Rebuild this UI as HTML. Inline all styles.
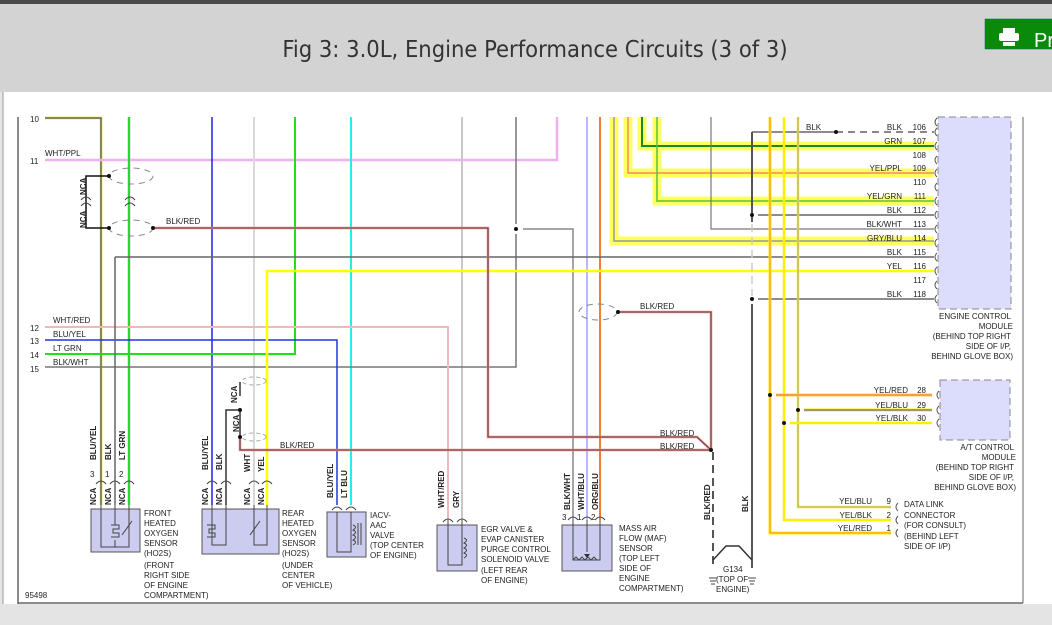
<!DOCTYPE html>
<html><head><meta charset="utf-8"><style>
html,body{margin:0;padding:0;width:1052px;height:625px;overflow:hidden;background:#fff;font-family:"Liberation Sans",sans-serif}
</style></head><body>
<svg width="1052" height="625" viewBox="0 0 1052 625" xmlns="http://www.w3.org/2000/svg" font-family="Liberation Sans, sans-serif">
<rect x="0" y="0" width="1052" height="625" fill="#fff"/>
<rect x="0" y="0" width="1052" height="4" fill="#4a4a4a"/>
<rect x="0" y="4" width="1052" height="88" fill="#d3d3d3"/>
<rect x="0" y="92" width="3" height="533" fill="#e6e6e6"/>
<line x1="3" y1="92" x2="3" y2="625" stroke="#999"/>
<text x="535" y="57" font-size="23.5" fill="#333" text-anchor="middle" font-family="DejaVu Sans Condensed, Liberation Sans Narrow, sans-serif">Fig 3: 3.0L, Engine Performance Circuits (3 of 3)</text>
<rect x="985" y="19" width="70" height="30" fill="#0a8a0a" stroke="#066" stroke-width="0.5"/>
<rect x="1003" y="28" width="12" height="6" fill="#fff"/>
<rect x="999" y="33" width="20" height="8" rx="2" fill="#fff"/>
<rect x="1003" y="42" width="12" height="4" fill="#fff"/>
<text x="1034" y="47" font-size="20" fill="#fff">Pr</text>
<rect x="0" y="604" width="1052" height="21" fill="#e4e4e4"/>
<line x1="18" y1="117" x2="18" y2="604" stroke="#666" stroke-width="1.5"/>
<line x1="18" y1="603" x2="1023" y2="603" stroke="#666" stroke-width="1.5"/>
<line x1="1023" y1="117" x2="1023" y2="603" stroke="#666" stroke-width="1"/>

<g fill="none" stroke-linejoin="miter">
<path d="M614 117V241H934" stroke="#ffff60" stroke-width="9"/>
<path d="M628 117V173H934" stroke="#ffff60" stroke-width="9"/>
<path d="M642 117V146H934" stroke="#ffff60" stroke-width="9"/>
<path d="M657 117V201H934" stroke="#ffff60" stroke-width="9"/>
<path d="M614 117V241H934" stroke="#999" stroke-width="1.5"/>
<path d="M628 117V173H934" stroke="#f07060" stroke-width="1.2"/>
<path d="M642 117V146H934" stroke="#1a8a1a" stroke-width="2"/>
<path d="M657 117V201H934" stroke="#5cc040" stroke-width="1.5"/>

<path d="M45 118H101V505" stroke="#e8d800" stroke-width="2.5"/>
<path d="M45 118H101V505" stroke="#2233cc" stroke-width="1"/>
<path d="M45 160H557V117" stroke="#f0b0f0" stroke-width="2.5"/>
<path d="M129 117V505" stroke="#ccc" stroke-width="3"/>
<path d="M129 117V505" stroke="#22dd22" stroke-width="2"/>
<path d="M212 117V505" stroke="#2222ee" stroke-width="1.5"/>
<path d="M254 117V505" stroke="#d8d8d8" stroke-width="2"/>
<path d="M295 117V354H45" stroke="#22dd22" stroke-width="2"/>
<path d="M351 117V505" stroke="#22eeee" stroke-width="2"/>
<path d="M462 117V520" stroke="#c8c8c8" stroke-width="2"/>
<path d="M516 117V224M516 234V367H45" stroke="#777" stroke-width="1.5"/>
<path d="M523 229H573V520" stroke="#888" stroke-width="1.5"/>
<path d="M587 117V520" stroke="#a0a0f8" stroke-width="1.5"/>
<path d="M600 117V520" stroke="#f08030" stroke-width="2"/>
<path d="M45 327H448V520" stroke="#f0b8b8" stroke-width="2"/>
<path d="M45 340H337V505" stroke="#2233dd" stroke-width="1.5"/>
<path d="M115 257V505" stroke="#666" stroke-width="1.5"/>
<path d="M115 257H934" stroke="#666" stroke-width="1.5"/>
<path d="M267 505V271H934" stroke="#ffff00" stroke-width="2.5"/>
<path d="M711 117V229H934" stroke="#777" stroke-width="1.2"/>

<path d="M153 228H488V437H697L711 450" stroke="#ee8888" stroke-width="2.5"/>
<path d="M153 228H488V437H697L711 450" stroke="#333" stroke-width="0.8"/>
<path d="M240 437V450H711" stroke="#ee8888" stroke-width="2.5"/>
<path d="M240 437V450H711" stroke="#333" stroke-width="0.8"/>
<path d="M618 312H711V450" stroke="#ee8888" stroke-width="2.5"/>
<path d="M618 312H711V450" stroke="#333" stroke-width="0.8"/>
<path d="M713 452V568" stroke="#555" stroke-width="2" stroke-dasharray="8,5"/>

<path d="M752 132H836" stroke="#666" stroke-width="1.5"/>
<path d="M836 132H934" stroke="#777" stroke-width="1.8" stroke-dasharray="7,5"/>
<path d="M752 132V222" stroke="#555" stroke-width="2"/>
<path d="M752 224V296" stroke="#ccc" stroke-width="1.5" stroke-dasharray="8,5"/>
<path d="M752 304V568" stroke="#555" stroke-width="2"/>
<path d="M758 215H934M758 299H934" stroke="#666" stroke-width="1.5"/>
<path d="M713 560L726 546H739L752 560" stroke="#333" stroke-width="1.5"/>

<path d="M770 117V533H891" stroke="#ffee00" stroke-width="3"/>
<path d="M770 117V533H891" stroke="#f07040" stroke-width="0.8"/>
<path d="M784 117V520H891" stroke="#ffee00" stroke-width="2.5"/>
<path d="M798 117V507H891" stroke="#ffee00" stroke-width="2.5"/>
<path d="M798 117V507H891" stroke="#8888ff" stroke-width="0.8"/>
<path d="M776 395H932" stroke="#ffcc44" stroke-width="3"/>
<path d="M776 395H932" stroke="#f07040" stroke-width="1"/>
<path d="M804 410H932" stroke="#ffee00" stroke-width="3"/>
<path d="M804 410H932" stroke="#3344dd" stroke-width="1"/>
<path d="M790 423H932" stroke="#ffee00" stroke-width="2.5"/>

<path d="M109 176H86V228H109" stroke="#111" stroke-width="1.5"/>
<ellipse cx="131" cy="176" rx="22" ry="8" stroke="#888" stroke-dasharray="6,5"/>
<ellipse cx="131" cy="228" rx="22" ry="8" stroke="#888" stroke-dasharray="6,5"/>
<ellipse cx="598" cy="312" rx="19" ry="8" stroke="#888" stroke-dasharray="6,5"/>
<ellipse cx="254" cy="381" rx="12" ry="4" stroke="#aaa" stroke-dasharray="4,3"/>
<ellipse cx="254" cy="437" rx="12" ry="4" stroke="#aaa" stroke-dasharray="4,3"/>
<path d="M240 382V396M240 412V437M240 410H226V505" stroke="#333" stroke-width="1.5"/>
</g>
<g fill="#111">
<circle cx="109" cy="176" r="2"/><circle cx="109" cy="228" r="2"/><circle cx="153" cy="228" r="2"/>
<circle cx="516" cy="229" r="2"/><circle cx="618" cy="312" r="2"/><circle cx="711" cy="450" r="2"/>
<circle cx="836" cy="132" r="2"/><circle cx="752" cy="215" r="2"/><circle cx="752" cy="299" r="2"/>
<circle cx="770" cy="395" r="2"/><circle cx="798" cy="410" r="2"/><circle cx="784" cy="423" r="2"/>
<circle cx="240" cy="410" r="2"/><circle cx="240" cy="437" r="2"/>
</g>

<rect x="938" y="117" width="73" height="192" fill="#dcdcfc" stroke="#888" stroke-dasharray="7,4"/>
<g fill="none" stroke="#555" stroke-width="1">
<path d="M937 128q-4 4 0 8M937 142q-4 4 0 8M937 156q-4 4 0 8M937 169q-4 4 0 8M937 183q-4 4 0 8M937 197q-4 4 0 8M937 211q-4 4 0 8M937 225q-4 4 0 8M937 239q-4 4 0 8M937 253q-4 4 0 8M937 267q-4 4 0 8M937 281q-4 4 0 8M937 295q-4 4 0 8M937 118q-4 4 0 8"/>
<path d="M939 391q-4 4 0 8M939 406q-4 4 0 8M939 419q-4 4 0 8"/>
<path d="M898 503q-4 4 0 8M898 516q-4 4 0 8M898 529q-4 4 0 8"/>
</g>
<g font-size="8" fill="#222" text-anchor="end">
<text x="902" y="130">BLK</text><text x="926" y="130">106</text>
<text x="902" y="144">GRN</text><text x="926" y="144">107</text>
<text x="926" y="158">108</text>
<text x="902" y="171">YEL/PPL</text><text x="926" y="171">109</text>
<text x="926" y="185">110</text>
<text x="902" y="199">YEL/GRN</text><text x="926" y="199">111</text>
<text x="902" y="213">BLK</text><text x="926" y="213">112</text>
<text x="902" y="227">BLK/WHT</text><text x="926" y="227">113</text>
<text x="902" y="241">GRY/BLU</text><text x="926" y="241">114</text>
<text x="902" y="255">BLK</text><text x="926" y="255">115</text>
<text x="902" y="269">YEL</text><text x="926" y="269">116</text>
<text x="926" y="283">117</text>
<text x="902" y="297">BLK</text><text x="926" y="297">118</text>
<text x="1011" y="319">ENGINE CONTROL</text><text x="1013" y="329">MODULE</text>
<text x="1011" y="339">(BEHIND TOP RIGHT</text><text x="1011" y="349">SIDE OF I/P,</text><text x="1013" y="359">BEHIND GLOVE BOX)</text>
<text x="908" y="393">YEL/RED</text><text x="926" y="393">28</text>
<text x="908" y="408">YEL/BLU</text><text x="926" y="408">29</text>
<text x="908" y="421">YEL/BLK</text><text x="926" y="421">30</text>
<text x="1014" y="450">A/T CONTROL</text><text x="1016" y="460">MODULE</text>
<text x="1014" y="470">(BEHIND TOP RIGHT</text><text x="1014" y="480">SIDE OF I/P,</text><text x="1016" y="490">BEHIND GLOVE BOX)</text>
<text x="872" y="504">YEL/BLU</text><text x="891" y="504">9</text>
<text x="872" y="518">YEL/BLK</text><text x="891" y="518">2</text>
<text x="872" y="531">YEL/RED</text><text x="891" y="531">1</text>
</g>
<rect x="940" y="380" width="70" height="60" fill="#dcdcfc" stroke="#888" stroke-dasharray="7,4"/>
<g font-size="8" fill="#222">
<text x="806" y="130">BLK</text>
<text x="904" y="507">DATA LINK</text><text x="904" y="518">CONNECTOR</text><text x="904" y="528">(FOR CONSULT)</text><text x="904" y="539">(BEHIND LEFT</text><text x="904" y="549">SIDE OF I/P)</text>
<text x="30" y="122">10</text>
<text x="45" y="156">WHT/PPL</text><text x="30" y="164">11</text>
<text x="166" y="224">BLK/RED</text>
<text x="53" y="323">WHT/RED</text><text x="30" y="331">12</text>
<text x="53" y="337">BLU/YEL</text><text x="30" y="344">13</text>
<text x="53" y="351">LT GRN</text><text x="30" y="358">14</text>
<text x="53" y="365">BLK/WHT</text><text x="30" y="372">15</text>
<text x="640" y="309">BLK/RED</text>
<text x="280" y="448">BLK/RED</text>
<text x="660" y="436">BLK/RED</text>
<text x="660" y="449">BLK/RED</text>
<text x="25" y="598">95498</text>
<text x="90" y="477">3</text><text x="105" y="477">1</text><text x="119" y="477">2</text>
<text x="562" y="520">3</text><text x="577" y="520">1</text><text x="591" y="520">2</text>
<text x="144" y="516">FRONT</text><text x="144" y="526">HEATED</text><text x="144" y="536">OXYGEN</text><text x="144" y="546">SENSOR</text><text x="144" y="556">(HO2S)</text>
<text x="144" y="568">(FRONT</text><text x="144" y="578">RIGHT SIDE</text><text x="144" y="588">OF ENGINE</text><text x="144" y="598">COMPARTMENT)</text>
<text x="282" y="516">REAR</text><text x="282" y="526">HEATED</text><text x="282" y="536">OXYGEN</text><text x="282" y="546">SENSOR</text><text x="282" y="556">(HO2S)</text>
<text x="282" y="568">(UNDER</text><text x="282" y="578">CENTER</text><text x="282" y="588">OF VEHICLE)</text>
<text x="370" y="518">IACV-</text><text x="370" y="528">AAC</text><text x="370" y="538">VALVE</text><text x="370" y="548">(TOP CENTER</text><text x="370" y="558">OF ENGINE)</text>
<text x="481" y="532">EGR VALVE &amp;</text><text x="481" y="542">EVAP CANISTER</text><text x="481" y="552">PURGE CONTROL</text><text x="481" y="562">SOLENOID VALVE</text><text x="481" y="573">(LEFT REAR</text><text x="481" y="583">OF ENGINE)</text>
<text x="619" y="531">MASS AIR</text><text x="619" y="541">FLOW (MAF)</text><text x="619" y="551">SENSOR</text><text x="619" y="561">(TOP LEFT</text><text x="619" y="571">SIDE OF</text><text x="619" y="581">ENGINE</text><text x="619" y="591">COMPARTMENT)</text>
<text x="723" y="572">G134</text><text x="716" y="582">(TOP OF</text><text x="716" y="592">ENGINE)</text>
</g>
<g font-size="8" fill="#222" font-weight="bold">
<text transform="translate(86,195) rotate(-90)">NCA</text>
<text transform="translate(86,228) rotate(-90)">NCA</text>
<text transform="translate(237,403) rotate(-90)">NCA</text>
<text transform="translate(239,432) rotate(-90)">NCA</text>
<text transform="translate(96,460) rotate(-90)">BLU/YEL</text>
<text transform="translate(111,460) rotate(-90)">BLK</text>
<text transform="translate(125,460) rotate(-90)">LT GRN</text>
<text transform="translate(96,505) rotate(-90)">NCA</text>
<text transform="translate(111,505) rotate(-90)">NCA</text>
<text transform="translate(125,505) rotate(-90)">NCA</text>
<text transform="translate(208,470) rotate(-90)">BLU/YEL</text>
<text transform="translate(222,470) rotate(-90)">BLK</text>
<text transform="translate(250,472) rotate(-90)">WHT</text>
<text transform="translate(264,472) rotate(-90)">YEL</text>
<text transform="translate(208,505) rotate(-90)">NCA</text>
<text transform="translate(222,505) rotate(-90)">NCA</text>
<text transform="translate(250,505) rotate(-90)">NCA</text>
<text transform="translate(264,505) rotate(-90)">NCA</text>
<text transform="translate(333,498) rotate(-90)">BLU/YEL</text>
<text transform="translate(347,498) rotate(-90)">LT BLU</text>
<text transform="translate(444,508) rotate(-90)">WHT/RED</text>
<text transform="translate(459,508) rotate(-90)">GRY</text>
<text transform="translate(570,510) rotate(-90)">BLK/WHT</text>
<text transform="translate(584,510) rotate(-90)">WHT/BLU</text>
<text transform="translate(598,510) rotate(-90)">ORG/BLU</text>
<text transform="translate(710,520) rotate(-90)">BLK/RED</text>
<text transform="translate(748,512) rotate(-90)">BLK</text>
</g>
<g stroke="#555" stroke-width="1">
<rect x="91" y="509" width="49" height="43" fill="#ccccf0"/>
<rect x="202" y="509" width="77" height="45" fill="#ccccf0"/>
<rect x="327" y="512" width="39" height="45" fill="#ccccf0"/>
<rect x="437" y="525" width="40" height="46" fill="#ccccf0"/>
<rect x="562" y="525" width="50" height="46" fill="#ccccf0"/>
</g>
<g fill="none" stroke="#444" stroke-width="1">
<path d="M101 505V547H129V505M115 505V525M115 547V540"/>
<path d="M111 525h8v4h-6v4h6v4h-8M122 535l10 -14"/>
<path d="M212 505V545H226V505M207 525h8v4h-6v4h6v4h-8M254 505V545H267V505M250 535l10-14"/>
<path d="M337 512V552H351V512M353 525q5 2 0 5q5 2 0 5q5 2 0 5q5 2 0 5M358 523V545M361 523V545"/>
<path d="M448 520V565H462V520M464 538q5 2 0 5q5 2 0 5q5 2 0 5q5 2 0 5"/>
<path d="M573 520V560H600V520M587 520V552M573 560l3-3l3 3l3-3l3 3l3-3l3 3l3-3l3 3"/>
<path d="M96 484q5-6 10 0M110 484q5-6 10 0M124 484q5-6 10 0M207 484q5-6 10 0M221 484q5-6 10 0M249 484q5-6 10 0M262 484q5-6 10 0M332 510q5-6 10 0M346 510q5-6 10 0M443 522q5-6 10 0M457 522q5-6 10 0M568 520q5-6 10 0M582 520q5-6 10 0M595 520q5-6 10 0M81 200q5-6 10 0M81 206q5-6 10 0M125 200q5-6 10 0M125 206q5-6 10 0"/>
<path d="M709 578h8M710 581h6M711 584h4M748 578h8M749 581h6M750 584h4"/>
</g>
<path d="M584 554l3 4l3-4z" fill="#333"/>
</svg>
</body></html>
